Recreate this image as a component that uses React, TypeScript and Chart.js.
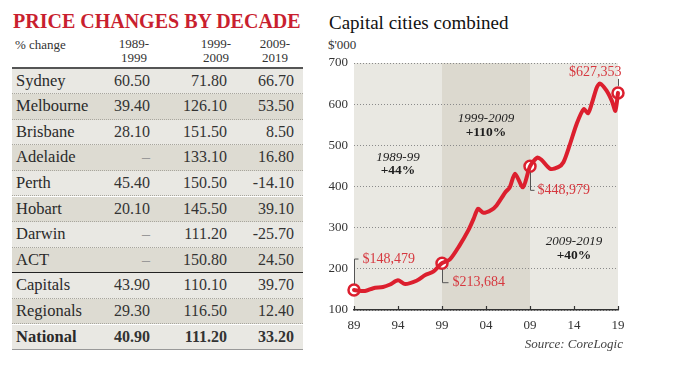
import React, { useEffect, useRef } from "react";
import { Chart, registerables } from "chart.js";

Chart.register(...registerables);

// ---------- Table data ----------
const tableTitle = "PRICE CHANGES BY DECADE";
const headerLabel = "% change";
const decadeHeaders = [
  ["1989-", "1999"],
  ["1999-", "2009"],
  ["2009-", "2019"],
];
const regions = [
  "Sydney",
  "Melbourne",
  "Brisbane",
  "Adelaide",
  "Perth",
  "Hobart",
  "Darwin",
  "ACT",
  "Capitals",
  "Regionals",
  "National",
];
const change1989_1999: (number | null)[] = [60.5, 39.4, 28.1, null, 45.4, 20.1, null, null, 43.9, 29.3, 40.9];
const change1999_2009: (number | null)[] = [71.8, 126.1, 151.5, 133.1, 150.5, 145.5, 111.2, 150.8, 110.1, 116.5, 111.2];
const change2009_2019: (number | null)[] = [66.7, 53.5, 8.5, 16.8, -14.1, 39.1, -25.7, 24.5, 39.7, 12.4, 33.2];

// ---------- Chart data ----------
const chartTitle = "Capital cities combined";
const yUnit = "$'000";
const sourceText = "Source: CoreLogic";
const xTickYears = [1989, 1994, 1999, 2004, 2009, 2014, 2019];
const xTickLabels = ["89", "94", "99", "04", "09", "14", "19"];
const lineYears = [
  1989, 1990.25, 1991.2, 1992.3, 1993.1, 1994, 1994.8, 1996.1, 1997.1, 1998, 1999, 1999.9, 2001, 2002, 2002.6,
  2003.1, 2003.7, 2004.6, 2005.2, 2006.2, 2006.7, 2007.3, 2008.2, 2009, 2009.8, 2010.3, 2011.3, 2012.2, 2012.8,
  2013.5, 2014.3, 2015.1, 2015.6, 2016, 2016.6, 2016.95, 2017.7, 2018.3, 2018.7, 2019,
];
const lineValues = [
  148.5, 146, 153, 156, 162, 172, 163, 171, 185, 193, 213.7, 223, 257, 294, 322, 346, 336, 343, 354, 386, 398, 431,
  398, 449, 470, 465, 443, 447, 459, 500, 552, 588, 578, 600, 641, 650, 633, 608, 584, 627.4,
];
const markerYears = [1989, 1999, 2009, 2019];
const markerValues = [148.479, 213.684, 448.979, 627.353];
const markerLabels = ["$148,479", "$213,684", "$448,979", "$627,353"];
const bandYears = [1989, 1999, 2009, 2019];
const periodLabels = ["1989-99", "1999-2009", "2009-2019"];
const periodChanges = ["+44%", "+110%", "+40%"];

// annotation anchors (data coordinates)
const periodAnchorX = [1994, 2004, 2014];
const periodAnchorY = [471, 565, 266];

const RED = "#dc1f2e";
const LABEL_RED = "#d6383f";
const FONT = "'Liberation Serif', 'Times New Roman', serif";

const fmt = (v: number | null) => (v === null ? "\u2013" : v.toFixed(2));

const ROW_TOP = 68.5;
const ROW_H = 25.6;

function PriceTable() {
  const cols = [change1989_1999, change1999_2009, change2009_2019];
  const rightOffsets = [153, 76, 9];
  const headerCenters = [122, 204, 263];
  return (
    <div>
      <div
        style={{
          position: "absolute",
          left: 13,
          top: 8,
          fontFamily: FONT,
          fontWeight: 700,
          fontSize: 20,
          color: "#c91f2f",
          whiteSpace: "nowrap",
          lineHeight: "26px",
        }}
      >
        {tableTitle}
      </div>
      <div
        style={{ position: "absolute", left: 15, top: 37, fontFamily: FONT, fontSize: 13, color: "#333", lineHeight: "16px" }}
      >
        {headerLabel}
      </div>
      {decadeHeaders.map((h, i) => (
        <div
          key={i}
          style={{
            position: "absolute",
            left: headerCenters[i] - 30 + 12,
            width: 60,
            top: 37,
            textAlign: "center",
            fontFamily: FONT,
            fontSize: 13,
            color: "#333",
            lineHeight: "13.5px",
          }}
        >
          {h[0]}
          <br />
          {h[1]}
        </div>
      ))}
      <div style={{ position: "absolute", left: 12, width: 291, top: 66.5, height: 2, background: "#555" }} />
      {regions.map((r, i) => {
        const bold = r === "National";
        const dark = i % 2 === 1;
        let borderBottom = "1px dotted #a8a69e";
        if (r === "ACT") borderBottom = "1.5px solid #222";
        if (i === regions.length - 1) borderBottom = "1.5px solid #999";
        return (
          <div
            key={r}
            style={{
              position: "absolute",
              left: 12,
              width: 291,
              top: ROW_TOP + i * ROW_H,
              height: ROW_H,
              boxSizing: "border-box",
              borderBottom,
              background: dark ? "#dddbd2" : "#e9e8e3",
              fontFamily: FONT,
              fontWeight: bold ? 700 : 400,
              color: "#2a2a2a",
              lineHeight: ROW_H - 1 + "px",
            }}
          >
            <span style={{ position: "absolute", left: 4, top: 0, fontSize: 16.5 }}>{r}</span>
            {cols.map((c, j) => (
              <span
                key={j}
                style={{
                  position: "absolute",
                  right: rightOffsets[j],
                  top: 0,
                  fontSize: 16,
                  color: c[i] === null ? "#999" : "#333",
                }}
              >
                {fmt(c[i])}
              </span>
            ))}
          </div>
        );
      })}
    </div>
  );
}

function LineChart() {
  const ref = useRef<HTMLCanvasElement | null>(null);
  useEffect(() => {
    const canvas = ref.current;
    if (!canvas) return;

    const bandsPlugin = {
      id: "bands",
      beforeDraw(chart: any) {
        const { ctx, chartArea, scales } = chart;
        const colors = ["#e9e8e2", "#dcd9cf", "#e9e8e2"];
        ctx.save();
        for (let i = 0; i < bandYears.length - 1; i++) {
          const x0 = scales.x.getPixelForValue(bandYears[i]);
          const x1 = scales.x.getPixelForValue(bandYears[i + 1]);
          ctx.fillStyle = colors[i];
          ctx.fillRect(x0, chartArea.top, x1 - x0, chartArea.bottom - chartArea.top);
        }
        ctx.restore();
      },
    };

    const annotationsPlugin = {
      id: "annotations",
      afterDraw(chart: any) {
        const { ctx, chartArea, scales } = chart;
        const xs = scales.x;
        const ys = scales.y;
        ctx.save();
        // upward axis ticks
        ctx.strokeStyle = "#333";
        ctx.lineWidth = 1.2;
        xTickYears.forEach((v) => {
          const px = Math.round(xs.getPixelForValue(v)) + 0.5;
          ctx.beginPath();
          ctx.moveTo(px, chartArea.bottom);
          ctx.lineTo(px, chartArea.bottom - 4);
          ctx.stroke();
        });
        // period labels
        ctx.fillStyle = "#1e1e1e";
        ctx.textAlign = "center";
        ctx.textBaseline = "middle";
        periodLabels.forEach((lab, i) => {
          const px = xs.getPixelForValue(periodAnchorX[i]);
          const py = ys.getPixelForValue(periodAnchorY[i]);
          ctx.font = `italic 13px ${FONT}`;
          ctx.fillText(lab, px, py);
          ctx.font = `bold 13.5px ${FONT}`;
          ctx.fillText(periodChanges[i], px, py + 13.5);
        });
        // marker labels with brackets
        const pts = markerYears.map((yr, i) => ({ x: xs.getPixelForValue(yr), y: ys.getPixelForValue(markerValues[i]) }));
        ctx.strokeStyle = "#555";
        ctx.lineWidth = 1;
        ctx.font = `14px ${FONT}`;
        ctx.fillStyle = LABEL_RED;
        ctx.textBaseline = "middle";
        {
          const p = pts[0];
          const x = Math.round(p.x) + 0.5;
          const top = p.y - 31;
          ctx.beginPath();
          ctx.moveTo(x, p.y - 6);
          ctx.lineTo(x, top);
          ctx.lineTo(x + 4, top);
          ctx.stroke();
          ctx.textAlign = "left";
          ctx.fillText(markerLabels[0], x + 8, top);
        }
        [1, 2].forEach((k) => {
          const p = pts[k];
          const x = Math.round(p.x) + 0.5;
          const bot = p.y + (k === 1 ? 19.5 : 24);
          ctx.beginPath();
          ctx.moveTo(x, p.y + 6);
          ctx.lineTo(x, bot);
          ctx.lineTo(x + (k === 1 ? 6 : 4), bot);
          ctx.stroke();
          ctx.textAlign = "left";
          ctx.fillText(markerLabels[k], x + (k === 1 ? 10 : 7), bot);
        });
        {
          const p = pts[3];
          const x = Math.round(p.x) + 0.5;
          ctx.beginPath();
          ctx.moveTo(x, p.y - 7);
          ctx.lineTo(x, p.y - 14);
          ctx.stroke();
          ctx.textAlign = "right";
          ctx.fillText(markerLabels[3], x + 3, p.y - 21);
        }
        ctx.restore();
      },
    };

    const chart = new Chart(canvas, {
      type: "line",
      data: {
        datasets: [
          {
            data: lineYears.map((x, i) => ({ x, y: lineValues[i] })),
            borderColor: RED,
            borderWidth: 4,
            pointRadius: 0,
            tension: 0.25,
            borderJoinStyle: "round",
            borderCapStyle: "round",
            fill: false,
            clip: false,
          },
          {
            data: markerYears.map((x, i) => ({ x, y: markerValues[i] })),
            showLine: false,
            pointRadius: 5.5,
            pointBackgroundColor: "#ffffff",
            pointBorderColor: RED,
            pointBorderWidth: 2.5,
            clip: false,
          },
        ],
      },
      options: {
        animation: false,
        responsive: false,
        maintainAspectRatio: false,
        layout: { padding: { left: 0, right: 61, top: 63, bottom: 39 } },
        plugins: { legend: { display: false }, tooltip: { enabled: false }, title: { display: false } },
        scales: {
          x: {
            type: "linear",
            min: 1989,
            max: 2019,
            afterBuildTicks: (scale: any) => {
              scale.ticks = xTickYears.map((v) => ({ value: v }));
            },
            afterFit: (scale: any) => {
              scale.height = 30;
            },
            ticks: {
              callback: (_v: any, i: number) => xTickLabels[i],
              padding: 8,
              maxRotation: 0,
              autoSkip: false,
              color: "#333",
              font: { family: FONT, size: 13 },
            },
            grid: { display: true, drawOnChartArea: false, drawTicks: false },
            border: { display: true, color: "#333", width: 1.5 },
          },
          y: {
            min: 100,
            max: 700,
            afterFit: (scale: any) => {
              scale.width = 44;
            },
            ticks: {
              stepSize: 100,
              padding: 6,
              color: "#333",
              font: { family: FONT, size: 13 },
            },
            grid: { color: "#8a8a8a", lineWidth: 1, drawTicks: false },
            border: { display: false, dash: [1, 2] },
          },
        },
      },
      plugins: [bandsPlugin, annotationsPlugin],
    } as any);
    return () => chart.destroy();
  }, []);

  return (
    <div>
      <div
        style={{ position: "absolute", left: 329, top: 10, fontFamily: FONT, fontSize: 19, color: "#111", lineHeight: "26px", whiteSpace: "nowrap" }}
      >
        {chartTitle}
      </div>
      <div style={{ position: "absolute", left: 328, top: 37, fontFamily: FONT, fontSize: 13, color: "#333", lineHeight: "16px" }}>
        {yUnit}
      </div>
      <canvas
        ref={ref}
        width={369}
        height={379}
        style={{ position: "absolute", left: 310, top: 0, width: 369, height: 379 }}
      />
      <div
        style={{
          position: "absolute",
          right: 679 - 623,
          top: 336,
          fontFamily: FONT,
          fontStyle: "italic",
          fontSize: 13,
          color: "#444",
          lineHeight: "16px",
          whiteSpace: "nowrap",
        }}
      >
        {sourceText}
      </div>
    </div>
  );
}

export default function App() {
  return (
    <div style={{ position: "fixed", left: 0, top: 0, width: 679, height: 379, background: "#fff", overflow: "hidden" }}>
      <PriceTable />
      <LineChart />
    </div>
  );
}
